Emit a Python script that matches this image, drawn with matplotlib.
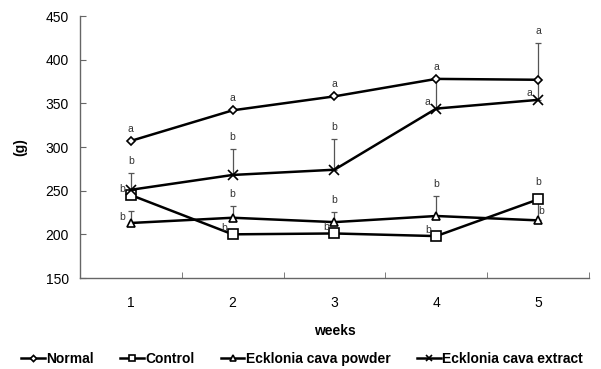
import matplotlib
matplotlib.use("Agg")
from matplotlib import pyplot as plt
from matplotlib.ticker import FixedLocator

weeks = [1, 2, 3, 4, 5]
series_names = ["Normal", "Control", "Ecklonia cava powder", "Ecklonia cava extract"]

normal = [307, 342, 358, 378, 377]
control = [245, 200, 201, 198, 240]
powder = [213, 219, 214, 221, 216]
extract = [251, 268, 274, 344, 354]

# upper error (only the top whisker is drawn)
normal_err = [0, 0, 0, 0, 42]
control_err = [0, 0, 0, 0, 0]
powder_err = [14, 13, 12, 23, 22]
extract_err = [19, 30, 35, 34, 23]

normal_letters = ["a", "a", "a", "a", "a"]
control_letters = ["b", "b", "b", "b", "b"]
powder_letters = ["b", "b", "b", "b", "b"]
extract_letters = ["b", "b", "b", "a", "a"]

plt.rcParams["font.family"] = ["Liberation Sans", "DejaVu Sans"]


def _plot_series(ax, values, err, marker, msize, label):
    ax.errorbar(weeks, values, yerr=[[0] * len(err), err], fmt="none",
                ecolor="#555555", elinewidth=0.9, capsize=2.5, capthick=0.9,
                zorder=2)
    ax.plot(weeks, values, color="black", lw=1.8, marker=marker,
            markersize=msize, markerfacecolor="white", markeredgecolor="black",
            markeredgewidth=1.2, label=label, zorder=3)


def _letters(ax, values, err, letters, placement):
    for x, v, e, s, p in zip(weeks, values, err, letters, placement):
        if p == "left":
            ax.annotate(s, (x, v), xytext=(-4, 1), textcoords="offset points",
                        ha="right", va="bottom", fontsize=7.5, color="#333333")
        elif p == "right":
            ax.annotate(s, (x, v), xytext=(0, 3), textcoords="offset points",
                        ha="left", va="bottom", fontsize=7.5, color="#333333")
        elif p == "high":
            ax.annotate(s, (x, v), xytext=(0, 9), textcoords="offset points",
                        ha="center", va="bottom", fontsize=7.5, color="#333333")
        else:
            ax.annotate(s, (x, v + e), xytext=(0, 5), textcoords="offset points",
                        ha="center", va="bottom", fontsize=7.5, color="#333333")


def main():
    fig = plt.figure(figsize=(6.01, 3.69), dpi=100)
    ax = fig.add_axes([0.133, 0.2466, 0.847, 0.71])

    _plot_series(ax, normal, normal_err, "D", 4.5, series_names[0])
    _plot_series(ax, control, control_err, "s", 6.5, series_names[1])
    _plot_series(ax, powder, powder_err, "^", 6, series_names[2])
    _plot_series(ax, extract, extract_err, "x", 7, series_names[3])

    _letters(ax, normal, normal_err, normal_letters, ["top"] * 5)
    _letters(ax, control, control_err, control_letters,
             ["left", "left", "left", "left", "high"])
    _letters(ax, powder, powder_err, powder_letters,
             ["left", "top", "top", "top", "right"])
    _letters(ax, extract, extract_err, extract_letters,
             ["top", "top", "top", "left", "left"])

    ax.set_xlim(0.5, 5.5)
    ax.set_ylim(150, 450)
    ax.set_yticks(range(150, 451, 50))
    ax.set_xticks(weeks)
    ax.xaxis.set_minor_locator(FixedLocator([1.5, 2.5, 3.5, 4.5, 5.5]))
    ax.tick_params(axis="x", which="major", length=0, pad=13, labelsize=10)
    ax.tick_params(axis="x", which="minor", direction="in", length=4,
                   color="#666666")
    ax.tick_params(axis="y", direction="in", length=4, color="#666666",
                   labelsize=10, pad=8)
    for side in ("top", "right"):
        ax.spines[side].set_visible(False)
    for side in ("left", "bottom"):
        ax.spines[side].set_color("#666666")
        ax.spines[side].set_linewidth(1.0)

    ax.set_xlabel("weeks", fontsize=10, fontweight="bold", labelpad=10)
    ax.set_ylabel("(g)", fontsize=10, fontweight="bold", labelpad=13)

    ax.legend(loc="center", bbox_to_anchor=(0.436, -0.31), ncol=4,
              frameon=False, handlelength=1.7, handletextpad=0.1,
              columnspacing=1.9, prop={"weight": "bold", "size": 10},
              markerscale=0.7)

    fig.savefig("out.png", dpi=100)


if __name__ == "__main__":
    main()
